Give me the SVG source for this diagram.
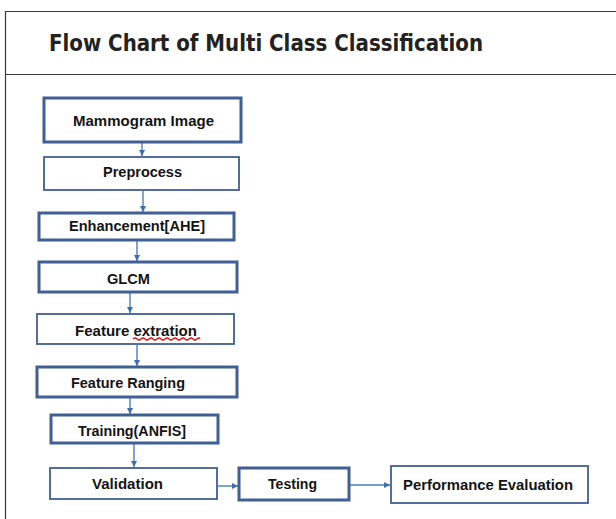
<svg xmlns="http://www.w3.org/2000/svg" width="616" height="519" viewBox="0 0 616 519">
<defs>
<marker id="ah" markerWidth="8" markerHeight="8" refX="7" refY="4" orient="auto" markerUnits="userSpaceOnUse">
<path d="M1,1 L7,4 L1,7 Z" fill="#3d6fb0"/>
</marker>
<style>
.frame{fill:none;stroke:#3a3a3a;stroke-width:1.2}
.box{fill:#fff;stroke:#3f5f95;stroke-width:1.8}
.thick{stroke-width:3}
.lbl{font-family:"Liberation Sans",Arial,sans-serif;font-weight:bold;font-size:14px;fill:#141414}
.title{font-family:"DejaVu Sans",Verdana,sans-serif;font-weight:bold;font-size:23px;fill:#222}
.conn{fill:none;stroke:#4a7ebb;stroke-width:1.4;marker-end:url(#ah)}
</style>
</defs>
<rect width="616" height="519" fill="#fff"/>
<g id="frame">
<path class="frame" d="M5.5,519 V11.5 H616 M5.5,74.5 H616"/>
<text class="title" x="49" y="51" textLength="434" lengthAdjust="spacingAndGlyphs">Flow Chart of Multi Class Classification</text>
</g>
<g id="connectors">
<line class="conn" x1="142" y1="143" x2="142" y2="156"/>
<line class="conn" x1="143" y1="191" x2="143" y2="212"/>
<line class="conn" x1="137" y1="241" x2="137" y2="261"/>
<line class="conn" x1="130" y1="293" x2="130" y2="313"/>
<line class="conn" x1="137" y1="345" x2="137" y2="366"/>
<line class="conn" x1="130" y1="398" x2="130" y2="414"/>
<line class="conn" x1="134" y1="444" x2="134" y2="467"/>
<line class="conn" x1="218" y1="486" x2="238" y2="486"/>
<line class="conn" x1="350" y1="485" x2="390" y2="485"/>
</g>
<g id="n1"><rect class="box thick" x="44" y="98" width="197" height="44"/><text class="lbl" x="73" y="126" textLength="141" lengthAdjust="spacingAndGlyphs">Mammogram Image</text></g>
<g id="n2"><rect class="box" x="44" y="157" width="195" height="33"/><text class="lbl" x="103" y="177" textLength="79" lengthAdjust="spacingAndGlyphs">Preprocess</text></g>
<g id="n3"><rect class="box thick" x="39" y="213" width="195" height="27"/><text class="lbl" x="69" y="231" textLength="136" lengthAdjust="spacingAndGlyphs">Enhancement[AHE]</text></g>
<g id="n4"><rect class="box thick" x="39" y="262" width="198" height="30"/><text class="lbl" x="107" y="284" textLength="43" lengthAdjust="spacingAndGlyphs">GLCM</text></g>
<g id="n5"><rect class="box" x="37" y="314" width="197" height="30"/><text class="lbl" x="75" y="336" textLength="122" lengthAdjust="spacingAndGlyphs">Feature extration</text>
<path d="M133,339 q2,-2 4,0 t4,0 t4,0 t4,0 t4,0 t4,0 t4,0 t4,0 t4,0 t4,0 t4,0 t4,0 t4,0 t4,0 t4,0 t4,0 t3,0" fill="none" stroke="#e01010" stroke-width="1.3"/></g>
<g id="n6"><rect class="box thick" x="37" y="367" width="200" height="30"/><text class="lbl" x="71" y="388" textLength="114" lengthAdjust="spacingAndGlyphs">Feature Ranging</text></g>
<g id="n7"><rect class="box thick" x="51" y="415" width="167" height="28"/><text class="lbl" x="78" y="436" textLength="108" lengthAdjust="spacingAndGlyphs">Training(ANFIS]</text></g>
<g id="n8"><rect class="box" x="50" y="468" width="167" height="31"/><text class="lbl" x="92" y="489" textLength="71" lengthAdjust="spacingAndGlyphs">Validation</text></g>
<g id="n9"><rect class="box thick" x="239" y="468" width="110" height="32"/><text class="lbl" x="268" y="489" textLength="49" lengthAdjust="spacingAndGlyphs">Testing</text></g>
<g id="n10"><rect class="box" x="391" y="466" width="197" height="37"/><text class="lbl" x="403" y="490" textLength="170" lengthAdjust="spacingAndGlyphs">Performance Evaluation</text></g>
</svg>
